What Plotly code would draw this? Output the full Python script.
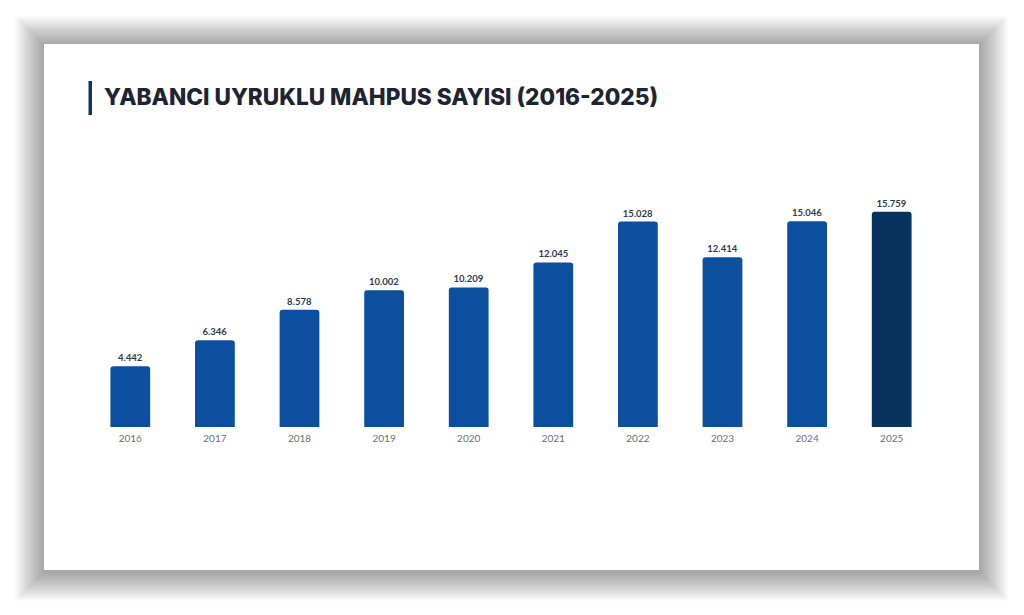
import plotly.graph_objects as go

# data
years = ["2016", "2017", "2018", "2019", "2020", "2021", "2022", "2023", "2024", "2025"]
prisoners = [4442, 6346, 8578, 10002, 10209, 12045, 15028, 12414, 15046, 15759]
value_labels = [f"{v:,}".replace(",", ".") for v in prisoners]

title_text = "YABANCI UYRUKLU MAHPUS SAYISI (2016-2025)"

BAR_BLUE = "#0b4f9e"
BAR_DARK = "#08335f"
colors = [BAR_BLUE] * (len(years) - 1) + [BAR_DARK]

# page geometry in screen pixels; the page body adds an 8px margin
OFF = 8
FW, FH = 1024 - OFF, 615 - OFF
L, T = 88 - OFF, 181 - OFF
R, B = 90, 188
PW, PH = FW - L - R, FH - T - B


def px(x):
    return (x - OFF - L) / PW


def py(y):
    return 1 - (y - OFF - T) / PH


shapes = []
# soft drop shadow round the card
card = (44, 44, 979, 570)
for k in range(1, 17):
    d = 1.8 * k
    shapes.append(dict(
        type="rect", xref="paper", yref="paper", layer="below",
        x0=px(card[0] - d), x1=px(card[2] + d),
        y0=py(card[3] + d + 2), y1=py(card[1] - d + 1),
        line=dict(width=0), fillcolor="rgba(0,0,0,0.022)",
    ))
# the white card
shapes.append(dict(
    type="rect", xref="paper", yref="paper", layer="below",
    x0=px(card[0]), x1=px(card[2]), y0=py(card[3]), y1=py(card[1]),
    line=dict(width=0), fillcolor="white",
))
# title accent bar
shapes.append(dict(
    type="rect", xref="paper", yref="paper", layer="below",
    x0=px(88.5), x1=px(92), y0=py(115), y1=py(81),
    line=dict(width=0), fillcolor="#0d3462",
))

fig = go.Figure(go.Bar(
    x=years,
    y=prisoners,
    marker=dict(color=colors, line=dict(width=0)),
    text=value_labels,
    textposition="outside",
    textfont=dict(family="Lato", size=9.5, color="#2b3a4f", weight="bold"),
    cliponaxis=False,
    width=0.47,
))

fig.update_layout(
    width=FW, height=FH,
    margin=dict(l=L, r=R, t=T, b=B),
    paper_bgcolor="white",
    plot_bgcolor="rgba(0,0,0,0)",
    showlegend=False,
    barcornerradius=3,
    shapes=shapes,
    xaxis=dict(
        type="category", showgrid=False, zeroline=False, showline=False,
        ticks="", tickfont=dict(family="Lato", size=10, color="#6b6f75"),
        ticklabelstandoff=4,
        range=[-0.5, 9.5],
    ),
    yaxis=dict(
        range=[0, 18000], visible=False, showgrid=False, zeroline=False,
    ),
    annotations=[dict(
        text=title_text, xref="paper", yref="paper",
        x=px(102), y=py(97), xanchor="left", yanchor="middle",
        showarrow=False,
        font=dict(family="Inter", size=22.6, color="#1d2433", weight=800),
    )],
)

fig.write_html("out.html")
